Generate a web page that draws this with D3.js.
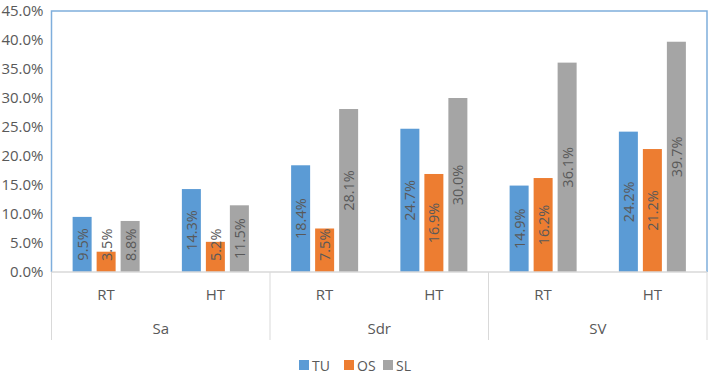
<!DOCTYPE html>
<html>
<head>
<meta charset="utf-8">
<script src="https://cdn.jsdelivr.net/npm/d3@7"></script>
<style>
  body { margin: 0; background: #fff; }
  text { font-family: "Open Sans", sans-serif; fill: #595959; }
</style>
</head>
<body>
<div class="container"></div>
<script>
var groups = ['Sa', 'Sdr', 'SV'];
var conditions = ['RT', 'HT'];
var seriesNames = ['TU', 'OS', 'SL'];
var colors = ['#5B9BD5', '#ED7D31', '#A5A5A5'];

// values per (group, condition): Sa RT, Sa HT, Sdr RT, Sdr HT, SV RT, SV HT
var TU = [9.5, 14.3, 18.4, 24.7, 14.9, 24.2];
var OS = [3.5, 5.2, 7.5, 16.9, 16.2, 21.2];
var SL = [8.8, 11.5, 28.1, 30.0, 36.1, 39.7];

var yTicks = [0, 5, 10, 15, 20, 25, 30, 35, 40, 45];

var W = 709, H = 376;
var plotL = 51.5, plotR = 707, plotT = 11, plotB = 272;

var cats = [];
groups.forEach(g => conditions.forEach(c => cats.push(g + '|' + c)));
var seriesVals = [TU, OS, SL];

var svg = d3.select('.container').append('svg')
    .attr('width', W)
    .attr('height', H);

var x0 = d3.scaleBand().domain(cats).range([plotL, plotR]).padding(0);
var x1 = d3.scaleBand().domain(seriesNames).range([0, x0.bandwidth()])
    .paddingInner(5 / 24).paddingOuter(0.88);
var y = d3.scaleLinear().domain([0, 45]).range([plotB, plotT]);

// y axis labels
var yAxis = d3.axisLeft(y).tickValues(yTicks).tickSize(0).tickPadding(8)
    .tickFormat(d => d.toFixed(1) + '%');
svg.append('g')
    .attr('transform', `translate(${ plotL },0)`)
    .call(yAxis)
    .call(g => g.select('.domain').remove())
    .selectAll('text')
    .style('font-family', '"Open Sans", sans-serif')
    .style('font-size', '15px')
    .attr('fill', '#595959');

// bars
var barG = svg.append('g');
cats.forEach((cat, i) => {
    seriesNames.forEach((s, j) => {
        var v = seriesVals[j][i];
        var bx = x0(cat) + x1(s);
        barG.append('rect')
            .attr('x', bx)
            .attr('y', y(v))
            .attr('width', x1.bandwidth())
            .attr('height', y(0) - y(v))
            .attr('fill', colors[j]);
    });
});

// labels, rotated, centered in bars but kept above baseline
cats.forEach((cat, i) => {
    seriesNames.forEach((s, j) => {
        var v = seriesVals[j][i];
        var cx = x0(cat) + x1(s) + x1.bandwidth() / 2;
        var t = barG.append('text')
            .text(v.toFixed(1) + '%')
            .style('font-size', '14.5px')
            .attr('text-anchor', 'middle')
            .attr('dominant-baseline', 'central');
        var len = t.node().getComputedTextLength();
        var cy = Math.min((y(v) + y(0)) / 2, y(0) - 11 - len / 2);
        t.attr('transform', `translate(${ cx },${ cy }) rotate(-90)`);
    });
});

// plot border (left, top, right)
svg.append('path')
    .attr('d', `M${ plotL },${ plotB }V${ plotT }H${ plotR }V${ plotB }`)
    .attr('fill', 'none')
    .attr('stroke', '#7FAEDC')
    .attr('stroke-width', 1.5);

// category axis
var axisCol = '#D9D9D9';
svg.append('line')
    .attr('x1', plotL).attr('x2', plotR)
    .attr('y1', plotB).attr('y2', plotB)
    .attr('stroke', axisCol).attr('stroke-width', 1.5);

var sepX = [0, 2, 4, 6].map(k => plotL + k * x0.step());
svg.selectAll('.sep').data(sepX).enter().append('line')
    .attr('x1', d => d).attr('x2', d => d)
    .attr('y1', plotB).attr('y2', 340)
    .attr('stroke', axisCol).attr('stroke-width', 1);

svg.selectAll('.cond').data(cats).enter().append('text')
    .attr('x', d => x0(d) + x0.bandwidth() / 2)
    .attr('y', 294)
    .attr('text-anchor', 'middle')
    .attr('dominant-baseline', 'central')
    .style('font-size', '15px')
    .text(d => d.split('|')[1]);

svg.selectAll('.grp').data(groups).enter().append('text')
    .attr('x', (d, i) => plotL + (i * 2 + 1) * x0.step())
    .attr('y', 328)
    .attr('text-anchor', 'middle')
    .attr('dominant-baseline', 'central')
    .style('font-size', '15px')
    .text(d => d);

// legend
var legendX = [299, 344, 383];
var lg = svg.selectAll('.lg').data(seriesNames).enter().append('g')
    .attr('transform', (d, i) => `translate(${ legendX[i] },365)`);
lg.append('rect')
    .attr('x', 0).attr('y', -5)
    .attr('width', 10).attr('height', 10)
    .attr('fill', (d, i) => colors[i]);
lg.append('text')
    .attr('x', 13).attr('y', 0)
    .attr('dominant-baseline', 'central')
    .style('font-size', '14px')
    .text(d => d);
</script>
</body>
</html>
